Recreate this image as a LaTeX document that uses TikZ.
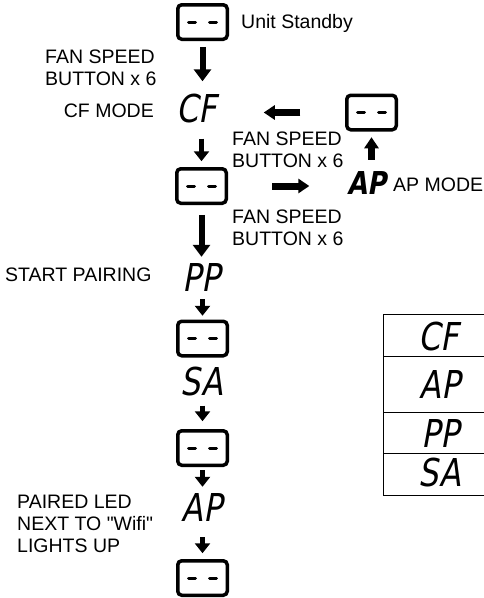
\documentclass[tikz,border=0pt]{standalone}
\usepackage{fontspec}
\setmainfont{Liberation Sans}[Ligatures={TeXOff,CommonOff}]
\newfontfamily\segfont[FakeSlant=0.18,FakeStretch=0.82]{DejaVu Sans}
\usetikzlibrary{arrows.meta}
\begin{document}
\begin{tikzpicture}[x=1pt,y=-1pt,
  lbl/.style={inner sep=0pt, font=\fontsize{19.5}{22}\selectfont, align=left},
  seg/.style={inner sep=0pt, font=\segfont\fontsize{38.4}{40}\selectfont},
  segb/.style={inner sep=0pt, font=\segfont\bfseries\fontsize{31.5}{33}\selectfont},
  lcd/.style={draw, line width=3.5pt, rounded corners=4pt, minimum width=49.5pt,
    minimum height=34.5pt, inner sep=0pt,
    path picture={\draw[line width=3pt, line cap=round]
      ([xshift=-14pt]path picture bounding box.center) -- ([xshift=-7pt]path picture bounding box.center)
      ([xshift=7pt]path picture bounding box.center) -- ([xshift=14pt]path picture bounding box.center);}},
  vbig/.style={line width=6pt, -{Triangle[width=17pt,length=12pt]}},
  vsmall/.style={line width=5pt, -{Triangle[width=15pt,length=10pt]}},
  hbig/.style={line width=7pt, -{Triangle[width=14pt,length=11pt]}},
  tbl/.style={line width=1pt}
]
\useasboundingbox[fill=white] (0,0) rectangle (483,598);
% chain
\node[lcd] (b1) at (202.5,22) {};
\node[lbl, anchor=west] (t1) at (241,23) {Unit Standby};
\node[lbl, anchor=north west] (t2) at (45,50) {FAN SPEED\\BUTTON x 6};
\node[seg] (cf) at (197,109) {CF};
\node[lbl, anchor=east] (t3) at (154,110.5) {CF MODE};
\node[lcd] (bap) at (371.5,112.5) {};
\node[lbl, anchor=north west] (t4) at (232,132) {FAN SPEED\\BUTTON x 6};
\node[lcd] (b2) at (201.5,186) {};
\node[segb] (apm) at (367,183) {AP};
\node[lbl, anchor=west] (t5) at (393,184.5) {AP MODE};
\node[lbl, anchor=north west] (t6) at (232,210) {FAN SPEED\\BUTTON x 6};
\node[seg] (pp) at (201,277) {PP};
\node[lbl, anchor=west] (t7) at (5,274.5) {START PAIRING};
\node[lcd] (b3) at (202.5,338.5) {};
\node[seg] (sa) at (202,382) {SA};
\node[lcd] (b4) at (202.5,448) {};
\node[seg] (ap2) at (202,507) {AP};
\node[lbl, anchor=north west] (t8) at (17,495) {PAIRED LED\\NEXT TO "Wifi"\\LIGHTS UP};
\node[lcd] (b5) at (202.5,578) {};
% arrows
\draw[vbig, shorten <=5.75pt, shorten >=13pt] (b1.south) -- (b1.south |- cf.north);
\draw[vsmall, shorten <=15pt, shorten >=5.75pt] (b2.north |- cf.south) -- (b2.north);
\draw[vbig, shorten <=9.75pt, shorten >=6pt] (b2.south) -- (b2.south |- pp.north);
\draw[vsmall, shorten <=8pt, shorten >=3.75pt] (b3.north |- pp.south) -- (b3.north);
\draw[vsmall, shorten <=9pt, shorten >=7.75pt] (b4.north |- sa.south) -- (b4.north);
\draw[vsmall, shorten <=3pt, shorten >=6pt] (b4.south) -- (b4.south |- ap2.north);
\draw[vsmall, shorten <=16pt, shorten >=5.75pt] (b5.north |- ap2.south) -- (b5.north);
\draw[hbig, shorten <=44.75pt, shorten >=46.5pt] (bap.west) -- (bap.west -| cf.east);
\draw[hbig, shorten <=44pt, shorten >=38pt] (b2.east) -- (b2.east -| apm.west);
\draw[hbig, shorten <=11.5pt, shorten >=5.75pt] (bap.south |- apm.north) -- (bap.south);
% table
\draw[tbl] (383,314) rectangle (495,495);
\draw[tbl] (383,356) -- (495,356) (383,412) -- (495,412) (383,453) -- (495,453);
\node[seg] (tcf) at (439,337) {CF};
\node[seg] (tap) at (440,384) {AP};
\node[seg] (tpp) at (440,433) {PP};
\node[seg] (tsa) at (440,473) {SA};
\end{tikzpicture}
\end{document}
